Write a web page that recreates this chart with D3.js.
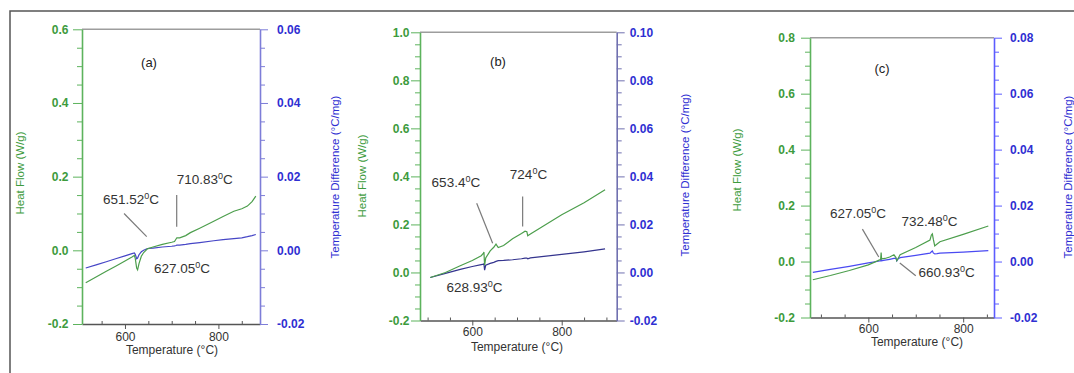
<!DOCTYPE html>
<html>
<head>
<meta charset="utf-8">
<script src="https://cdn.jsdelivr.net/npm/d3@7"></script>
<style>
  body { margin: 0; background: #fff; }
  svg { display: block; font-family: "Liberation Sans", Arial, sans-serif; }
</style>
</head>
<body>
<svg id="chart" width="1074" height="373"></svg>
<script>
// ---- panel (a) ----
const tempA = [516, 540, 560, 580, 600, 615, 620, 622, 625, 627, 630, 635, 640, 648, 660, 680, 700, 706, 709, 711, 717, 730, 740, 760, 790, 810, 833, 850, 862, 872, 880];
const heatA = [-0.088, -0.071, -0.057, -0.043, -0.029, -0.018, -0.014, -0.022, -0.048, -0.053, -0.036, -0.016, -0.006, 0.004, 0.009, 0.016, 0.022, 0.024, 0.030, 0.034, 0.034, 0.040, 0.048, 0.060, 0.079, 0.092, 0.106, 0.113, 0.120, 0.132, 0.147];
const diffA = [-0.0048, -0.0039, -0.0031, -0.0023, -0.0015, -0.0009, -0.0007, -0.0011, -0.0023, -0.0021, -0.0012, -0.0004, 0.0000, 0.0005, 0.0006, 0.0009, 0.0011, 0.0012, 0.0013, 0.0014, 0.0014, 0.0016, 0.0018, 0.0021, 0.0026, 0.0029, 0.0032, 0.0034, 0.0037, 0.0040, 0.0043];
const heatTicksA = [-0.2, 0, 0.2, 0.4, 0.6];
const diffTicksA = [-0.02, 0, 0.02, 0.04, 0.06];
const notesA = [
  { num: "710.83", t: 710.7, v: 0.180, lead: [[710.7, 0.150], [710.7, 0.064]] },
  { num: "651.52", t: 553, v: 0.126, lead: [[598, 0.100], [646.5, 0.037]] },
  { num: "627.05", t: 662, v: -0.062, lead: null }
];

// ---- panel (b) ----
const tempB = [506, 540, 573, 600, 620, 625, 626, 627.5, 630, 640, 648, 653, 658, 670, 690, 710, 718, 722, 724, 730, 760, 800, 850, 897];
const heatB = [-0.021, 0.000, 0.028, 0.050, 0.070, 0.080, 0.085, 0.030, 0.060, 0.090, 0.105, 0.118, 0.104, 0.112, 0.140, 0.162, 0.172, 0.170, 0.153, 0.160, 0.195, 0.240, 0.290, 0.344];
const diffB = [-0.0021, -0.0004, 0.0013, 0.0025, 0.0033, 0.0035, 0.0036, 0.0010, 0.0030, 0.0038, 0.0042, 0.0046, 0.0049, 0.0050, 0.0053, 0.0057, 0.0060, 0.0060, 0.0057, 0.0061, 0.0067, 0.0075, 0.0086, 0.0098];
const heatTicksB = [-0.2, 0, 0.2, 0.4, 0.6, 0.8, 1.0];
const diffTicksB = [-0.02, 0, 0.02, 0.04, 0.06, 0.08, 0.10];
const notesB = [
  { num: "653.4", t: 509, v: 0.356, lead: [[609.8, 0.288], [645.5, 0.122]] },
  { num: "724", t: 684, v: 0.389, lead: [[712.6, 0.316], [712.6, 0.191]] },
  { num: "628.93", t: 542, v: -0.081, lead: null }
];

// ---- panel (c) ----
const tempC = [483, 520, 560, 600, 624, 626, 627, 628, 635, 645, 654, 658, 660, 663, 667, 700, 730, 733, 735, 737, 740, 745, 751, 800, 853];
const heatC = [-0.065, -0.050, -0.032, -0.012, 0.006, 0.008, 0.032, 0.010, 0.011, 0.016, 0.024, 0.015, 0.003, 0.012, 0.024, 0.050, 0.077, 0.095, 0.099, 0.080, 0.056, 0.063, 0.071, 0.097, 0.127];
const diffC = [-0.0039, -0.0028, -0.0017, -0.0005, 0.0002, 0.0003, 0.0008, 0.0003, 0.0005, 0.0008, 0.0011, 0.0012, 0.0002, 0.0010, 0.0014, 0.0022, 0.0030, 0.0035, 0.0038, 0.0031, 0.0027, 0.0028, 0.0030, 0.0034, 0.0039];
const heatTicksC = [-0.2, 0, 0.2, 0.4, 0.6, 0.8];
const diffTicksC = [-0.02, 0, 0.02, 0.04, 0.06, 0.08];
const notesC = [
  { num: "627.05", t: 519, v: 0.156, lead: [[587.5, 0.116], [622, 0.016]] },
  { num: "732.48", t: 670, v: 0.127, lead: null },
  { num: "660.93", t: 706, v: -0.055, lead: [[666.4, -0.005], [700, -0.051]] }
];

const tempTicks = [600, 800];

// layout of each panel (pixels)
const panels = [
  { name: "(a)", nameAt: [651.4, 0.4975], temp: tempA, heat: heatA, diff: diffA, heatTicks: heatTicksA, diffTicks: diffTicksA, notes: notesA,
    xDomain: [508, 889], left: 82, right: 260, top: 29.3, bottom: 324,
    heatPad: 4.5, diffPad: 9, xPad: 3.5, heatTitle: [19.5, 173], diffTitle: [335, 177], xTitle: [172, 350],
    diffLine: "#4646c6", diffAxis: "#7d7dd8" },
  { name: "(b)", nameAt: [657.5, 0.86], temp: tempB, heat: heatB, diff: diffB, heatTicks: heatTicksB, diffTicks: diffTicksB, notes: notesB,
    xDomain: [483, 923], left: 420, right: 616.7, top: 32.3, bottom: 320.5,
    heatPad: 1.5, diffPad: 5, xPad: 2, heatTitle: [362, 176], diffTitle: [685, 175], xTitle: [517, 346.7],
    diffLine: "#34348e", diffAxis: "#7070b0" },
  { name: "(c)", nameAt: [629, 0.674], temp: tempC, heat: heatC, diff: diffC, heatTicks: heatTicksC, diffTicks: diffTicksC, notes: notesC,
    xDomain: [477, 865], left: 810, right: 994, top: 37.7, bottom: 317.5,
    heatPad: 6, diffPad: 8, xPad: 1.5, heatTitle: [737, 170], diffTitle: [1068, 177], xTitle: [917, 342],
    diffLine: "#4a4af2", diffAxis: "#5c5cff" }
];

const green = "#3d9b3d";
const greenAxis = "#5db35d";
const greenLine = "#4c9e4c";
const blueText = "#2f2fd2";

const fmtHeat = v => d3.format(".1f")(v).replace("\u2212", "-");
const fmtDiff = v => d3.format(".2f")(v).replace("\u2212", "-");

const svg = d3.select("#chart");

// outer frame (extends past the picture on right and bottom)
svg.append("path")
  .attr("d", "M10,373V11H1074")
  .attr("fill", "none")
  .attr("stroke", "#555")
  .attr("stroke-width", 1.5);

function minorValues(domain, step, majors) {
  return d3.range(Math.ceil(domain[0] / step - 1e-9) * step, domain[1] + 1e-9, step)
    .map(v => +v.toFixed(4))
    .filter(v => !majors.some(m => Math.abs(m - v) < 1e-6));
}

function drawPanel(p) {
  const g = svg.append("g");
  const heatDomain = d3.extent(p.heatTicks);
  const diffDomain = d3.extent(p.diffTicks);

  const x = d3.scaleLinear().domain(p.xDomain).range([p.left, p.right]);
  const y = d3.scaleLinear().domain(heatDomain).range([p.bottom, p.top]);
  const y2 = d3.scaleLinear().domain(diffDomain).range([p.bottom, p.top]);

  // top frame line
  g.append("line")
    .attr("x1", p.left).attr("x2", p.right)
    .attr("y1", p.top).attr("y2", p.top)
    .attr("stroke", "#9d9d9d").attr("stroke-width", 1.6);

  // x axis: minor then major
  const xMinor = minorValues(p.xDomain, 50, tempTicks);
  g.append("g")
    .attr("transform", `translate(0,${p.bottom})`)
    .call(d3.axisTop(x).tickValues(xMinor).tickSize(3).tickSizeOuter(0).tickFormat(""))
    .call(a => a.select(".domain").remove())
    .call(a => a.selectAll("line").attr("stroke", "#555"));
  g.append("g")
    .attr("transform", `translate(0,${p.bottom})`)
    .call(d3.axisBottom(x).tickValues(tempTicks).tickSize(5).tickSizeOuter(0).tickPadding(p.xPad))
    .call(a => a.select(".domain").attr("stroke", "#555").attr("stroke-width", 1.5))
    .call(a => a.selectAll("line").attr("stroke", "#555"))
    .call(a => a.selectAll("text").attr("fill", "#333").attr("font-size", 12).attr("font-family", "Liberation Sans, Arial, sans-serif"));

  // heat flow axis (left, green)
  g.append("g")
    .attr("transform", `translate(${p.left},0)`)
    .call(d3.axisLeft(y).tickValues(minorValues(heatDomain, 0.05, p.heatTicks)).tickSize(5).tickSizeOuter(0).tickFormat(""))
    .call(a => a.select(".domain").remove())
    .call(a => a.selectAll("line").attr("stroke", greenAxis));
  g.append("g")
    .attr("transform", `translate(${p.left},0)`)
    .call(d3.axisLeft(y).tickValues(p.heatTicks).tickSize(9).tickSizeOuter(0).tickPadding(p.heatPad).tickFormat(fmtHeat))
    .call(a => a.select(".domain").attr("stroke", greenAxis).attr("stroke-width", 1.6))
    .call(a => a.selectAll("line").attr("stroke", greenAxis))
    .call(a => a.selectAll("text").attr("fill", green).attr("font-size", 12).attr("font-weight", "bold").attr("font-family", "Liberation Sans, Arial, sans-serif"));

  // temperature difference axis (right, blue)
  g.append("g")
    .attr("transform", `translate(${p.right},0)`)
    .call(d3.axisRight(y2).tickValues(minorValues(diffDomain, 0.005, p.diffTicks)).tickSize(5).tickSizeOuter(0).tickFormat(""))
    .call(a => a.select(".domain").remove())
    .call(a => a.selectAll("line").attr("stroke", p.diffAxis));
  g.append("g")
    .attr("transform", `translate(${p.right},0)`)
    .call(d3.axisRight(y2).tickValues(p.diffTicks).tickSize(8).tickSizeOuter(0).tickPadding(p.diffPad).tickFormat(fmtDiff))
    .call(a => a.select(".domain").attr("stroke", p.diffAxis).attr("stroke-width", 1.6))
    .call(a => a.selectAll("line").attr("stroke", p.diffAxis))
    .call(a => a.selectAll("text").attr("fill", blueText).attr("font-size", 12).attr("font-weight", "bold").attr("font-family", "Liberation Sans, Arial, sans-serif"));

  // axis titles
  g.append("text")
    .attr("transform", `translate(${p.heatTitle[0]},${p.heatTitle[1]}) rotate(-90)`)
    .attr("text-anchor", "middle").attr("dominant-baseline", "central")
    .attr("font-size", 11.5).attr("fill", green)
    .text("Heat Flow (W/g)");
  g.append("text")
    .attr("transform", `translate(${p.diffTitle[0]},${p.diffTitle[1]}) rotate(-90)`)
    .attr("text-anchor", "middle").attr("dominant-baseline", "central")
    .attr("font-size", 11.5).attr("fill", blueText)
    .text("Temperature Difference (°C/mg)");
  g.append("text")
    .attr("x", p.xTitle[0]).attr("y", p.xTitle[1])
    .attr("text-anchor", "middle").attr("dominant-baseline", "central")
    .attr("font-size", 12).attr("fill", "#333")
    .text("Temperature (°C)");

  // curves
  const idx = d3.range(p.temp.length);
  g.append("path")
    .datum(idx)
    .attr("fill", "none").attr("stroke", p.diffLine).attr("stroke-width", 1.2)
    .attr("d", d3.line().x(i => x(p.temp[i])).y(i => y2(p.diff[i])));
  g.append("path")
    .datum(idx)
    .attr("fill", "none").attr("stroke", greenLine).attr("stroke-width", 1.2)
    .attr("d", d3.line().x(i => x(p.temp[i])).y(i => y(p.heat[i])));

  // panel letter
  g.append("text")
    .attr("x", x(p.nameAt[0])).attr("y", y(p.nameAt[1]))
    .attr("text-anchor", "middle")
    .attr("font-size", 13).attr("fill", "#222")
    .text(p.name);

  // annotations
  p.notes.forEach(n => {
    if (n.lead) {
      g.append("line")
        .attr("x1", x(n.lead[0][0])).attr("y1", y(n.lead[0][1]))
        .attr("x2", x(n.lead[1][0])).attr("y2", y(n.lead[1][1]))
        .attr("stroke", "#7a7a7a").attr("stroke-width", 1.2);
    }
    const t = g.append("text")
      .attr("x", x(n.t)).attr("y", y(n.v))
      .attr("font-size", 13.5).attr("fill", "#333");
    t.append("tspan").text(n.num);
    t.append("tspan").attr("font-size", 9).attr("dy", -5).text("0");
    t.append("tspan").attr("dy", 5).text("C");
  });
}

panels.forEach(drawPanel);
</script>
</body>
</html>
